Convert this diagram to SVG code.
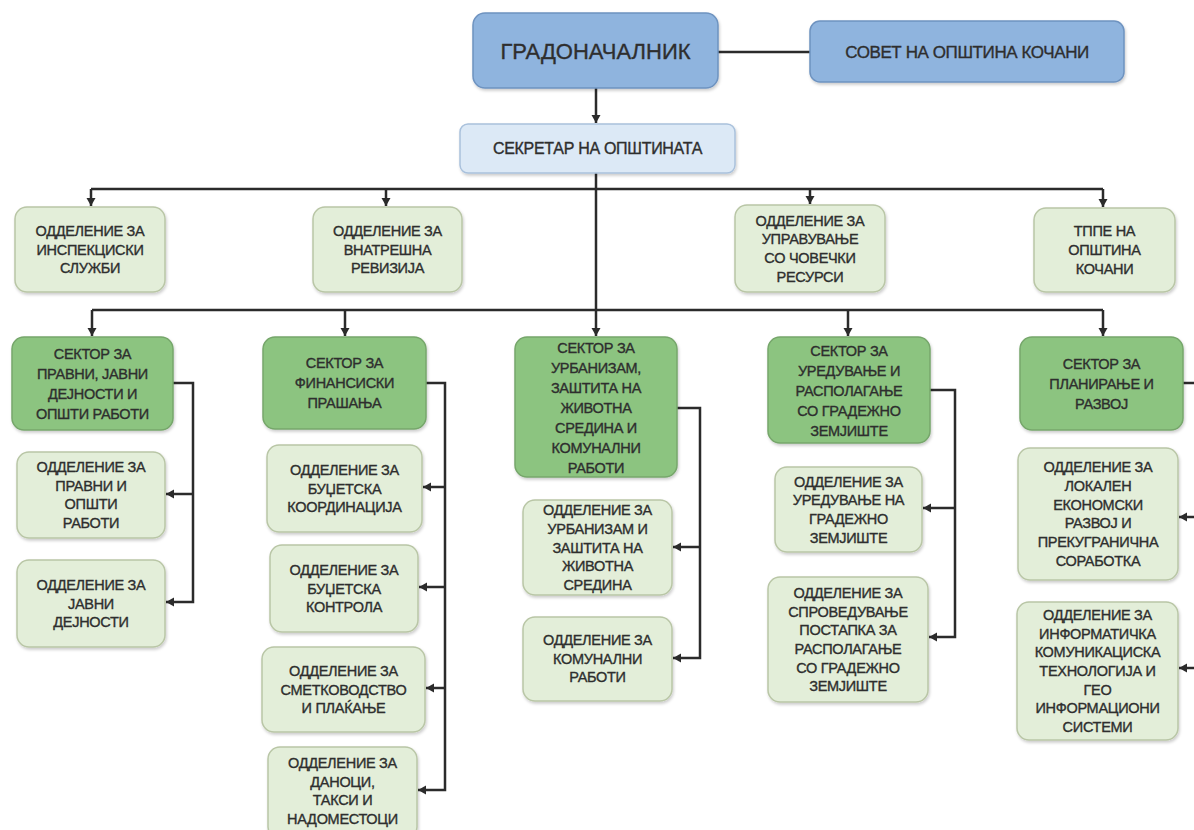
<svg xmlns="http://www.w3.org/2000/svg" width="1194" height="830" viewBox="0 0 1194 830">
<defs>
<marker id="arr" markerUnits="userSpaceOnUse" markerWidth="10" markerHeight="10" refX="8" refY="4.5" orient="auto">
<path d="M0,0 L8,4.5 L0,9 z" fill="#2b2b2b"/>
</marker>
<filter id="sh" x="-10%" y="-10%" width="125%" height="130%">
<feDropShadow dx="1" dy="2" stdDeviation="1.5" flood-color="#000" flood-opacity="0.2"/>
</filter>
<style>
.blue{fill:#8fb4de;stroke:#6e93c0;stroke-width:1.5;filter:url(#sh)}
.lblue{fill:#dce9f6;stroke:#a9c1dc;stroke-width:1.5;filter:url(#sh)}
.sec{fill:#8cc480;stroke:#76a66b;stroke-width:1.5;filter:url(#sh)}
.dep{fill:#e3eed9;stroke:#b9c6a6;stroke-width:1.5;filter:url(#sh)}
text{font-family:"Liberation Sans",Arial,sans-serif;fill:#2e2e2e;stroke:#2e2e2e;stroke-width:0.35;text-anchor:middle}
.t{font-size:14.5px;letter-spacing:-0.3px}
.conn path{fill:none;stroke:#2b2b2b;stroke-width:2.5}
.conn .a{marker-end:url(#arr)}
</style>
</defs>
<rect width="1194" height="830" fill="#fff"/>

<g class="conn" id="connectors">
<path d="M718,52 H810"/>
<path class="a" d="M596,88 V123"/>
<path class="a" d="M596,173 V336"/>
<path d="M91,189 H1103"/>
<path class="a" d="M91,189 V206"/>
<path class="a" d="M386,189 V206"/>
<path class="a" d="M810,189 V204"/>
<path class="a" d="M1103,189 V207"/>
<path d="M92,310 H1103"/>
<path class="a" d="M92,310 V336"/>
<path class="a" d="M345,310 V336"/>
<path class="a" d="M848,310 V336"/>
<path class="a" d="M1103,310 V336"/>
<path class="a" d="M173,383 H193 V602 H166"/>
<path class="a" d="M193,494 H166"/>
<path class="a" d="M426,383 H445 V790 H418"/>
<path class="a" d="M445,487 H423"/>
<path class="a" d="M445,587 H419"/>
<path class="a" d="M445,688 H426"/>
<path class="a" d="M677,408 H700 V658 H673"/>
<path class="a" d="M700,547 H673"/>
<path class="a" d="M930,390 H955 V637 H929"/>
<path class="a" d="M955,508 H923"/>
<path d="M1183,383 H1200"/>
<path class="a" d="M1200,517 H1179"/>
<path class="a" d="M1200,668 H1179"/>
</g>

<g id="mayor"><rect class="blue" x="473" y="13" width="245" height="75" rx="12"/>
<text x="595.5" y="58.5" font-size="22">ГРАДОНАЧАЛНИК</text></g>
<g id="council"><rect class="blue" x="810" y="21" width="314" height="61" rx="10"/>
<text x="967" y="57.5" font-size="17" letter-spacing="-0.4">СОВЕТ НА ОПШТИНА КОЧАНИ</text></g>
<g id="secretary"><rect class="lblue" x="460" y="124" width="275" height="49" rx="8"/>
<text x="597.5" y="154" font-size="16" letter-spacing="-0.3">СЕКРЕТАР НА ОПШТИНАТА</text></g>

<g id="dep-inspection"><rect class="dep" x="15" y="207" width="150" height="85" rx="12"/>
<text class="t"><tspan x="90" y="235.8">ОДДЕЛЕНИЕ ЗА</tspan><tspan x="90" y="254.5">ИНСПЕКЦИСКИ</tspan><tspan x="90" y="273.2">СЛУЖБИ</tspan></text></g>
<g id="dep-audit"><rect class="dep" x="313" y="207" width="149" height="85" rx="12"/>
<text class="t"><tspan x="387.5" y="235.8">ОДДЕЛЕНИЕ ЗА</tspan><tspan x="387.5" y="254.5">ВНАТРЕШНА</tspan><tspan x="387.5" y="273.2">РЕВИЗИЈА</tspan></text></g>
<g id="dep-hr"><rect class="dep" x="735" y="205" width="150" height="87" rx="12"/>
<text class="t"><tspan x="810" y="225.5">ОДДЕЛЕНИЕ ЗА</tspan><tspan x="810" y="244.2">УПРАВУВАЊЕ</tspan><tspan x="810" y="262.9">СО ЧОВЕЧКИ</tspan><tspan x="810" y="281.6">РЕСУРСИ</tspan></text></g>
<g id="tppe"><rect class="dep" x="1034" y="208" width="141" height="84" rx="12"/>
<text class="t"><tspan x="1104.5" y="236.3">ТППЕ НА</tspan><tspan x="1104.5" y="255">ОПШТИНА</tspan><tspan x="1104.5" y="273.7">КОЧАНИ</tspan></text></g>

<g id="sector-legal"><rect class="sec" x="12" y="337" width="161" height="93" rx="12"/>
<text class="t"><tspan x="92.5" y="358.5">СЕКТОР ЗА</tspan><tspan x="92.5" y="378.5">ПРАВНИ, ЈАВНИ</tspan><tspan x="92.5" y="398.5">ДЕЈНОСТИ И</tspan><tspan x="92.5" y="418.5">ОПШТИ РАБОТИ</tspan></text></g>
<g id="sector-finance"><rect class="sec" x="263" y="337" width="163" height="92" rx="12"/>
<text class="t"><tspan x="344.5" y="368">СЕКТОР ЗА</tspan><tspan x="344.5" y="388">ФИНАНСИСКИ</tspan><tspan x="344.5" y="408">ПРАШАЊА</tspan></text></g>
<g id="sector-urban"><rect class="sec" x="515" y="337" width="162" height="140" rx="12"/>
<text class="t"><tspan x="596" y="353">СЕКТОР ЗА</tspan><tspan x="596" y="373">УРБАНИЗАМ,</tspan><tspan x="596" y="393">ЗАШТИТА НА</tspan><tspan x="596" y="413">ЖИВОТНА</tspan><tspan x="596" y="433">СРЕДИНА И</tspan><tspan x="596" y="453">КОМУНАЛНИ</tspan><tspan x="596" y="473">РАБОТИ</tspan></text></g>
<g id="sector-land"><rect class="sec" x="768" y="337" width="162" height="106" rx="12"/>
<text class="t"><tspan x="849" y="356">СЕКТОР ЗА</tspan><tspan x="849" y="376">УРЕДУВАЊЕ И</tspan><tspan x="849" y="396">РАСПОЛАГАЊЕ</tspan><tspan x="849" y="416">СО ГРАДЕЖНО</tspan><tspan x="849" y="436">ЗЕМЈИШТЕ</tspan></text></g>
<g id="sector-planning"><rect class="sec" x="1020" y="337" width="163" height="93" rx="12"/>
<text class="t"><tspan x="1101.5" y="368.5">СЕКТОР ЗА</tspan><tspan x="1101.5" y="388.5">ПЛАНИРАЊЕ И</tspan><tspan x="1101.5" y="408.5">РАЗВОЈ</tspan></text></g>

<g id="dep-legal"><rect class="dep" x="17" y="452" width="148" height="86" rx="12"/>
<text class="t"><tspan x="91" y="472">ОДДЕЛЕНИЕ ЗА</tspan><tspan x="91" y="490.7">ПРАВНИ И</tspan><tspan x="91" y="509.4">ОПШТИ</tspan><tspan x="91" y="528.1">РАБОТИ</tspan></text></g>
<g id="dep-public"><rect class="dep" x="17" y="560" width="148" height="87" rx="12"/>
<text class="t"><tspan x="91" y="589.8">ОДДЕЛЕНИЕ ЗА</tspan><tspan x="91" y="608.5">ЈАВНИ</tspan><tspan x="91" y="627.2">ДЕЈНОСТИ</tspan></text></g>

<g id="dep-budget-coord"><rect class="dep" x="267" y="445" width="155" height="87" rx="12"/>
<text class="t"><tspan x="344.5" y="474.8">ОДДЕЛЕНИЕ ЗА</tspan><tspan x="344.5" y="493.5">БУЏЕТСКА</tspan><tspan x="344.5" y="512.2">КООРДИНАЦИЈА</tspan></text></g>
<g id="dep-budget-control"><rect class="dep" x="270" y="545" width="148" height="87" rx="12"/>
<text class="t"><tspan x="344" y="574.8">ОДДЕЛЕНИЕ ЗА</tspan><tspan x="344" y="593.5">БУЏЕТСКА</tspan><tspan x="344" y="612.2">КОНТРОЛА</tspan></text></g>
<g id="dep-accounting"><rect class="dep" x="262" y="647" width="163" height="85" rx="12"/>
<text class="t"><tspan x="343.5" y="675.8">ОДДЕЛЕНИЕ ЗА</tspan><tspan x="343.5" y="694.5">СМЕТКОВОДСТВО</tspan><tspan x="343.5" y="713.2">И ПЛАЌАЊЕ</tspan></text></g>
<g id="dep-taxes"><rect class="dep" x="268" y="747" width="149" height="92" rx="12"/>
<text class="t"><tspan x="342.5" y="768">ОДДЕЛЕНИЕ ЗА</tspan><tspan x="342.5" y="786.7">ДАНОЦИ,</tspan><tspan x="342.5" y="805.4">ТАКСИ И</tspan><tspan x="342.5" y="824.1">НАДОМЕСТОЦИ</tspan></text></g>

<g id="dep-urban"><rect class="dep" x="523" y="500" width="149" height="95" rx="12"/>
<text class="t"><tspan x="597.5" y="515.1">ОДДЕЛЕНИЕ ЗА</tspan><tspan x="597.5" y="533.8">УРБАНИЗАМ И</tspan><tspan x="597.5" y="552.5">ЗАШТИТА НА</tspan><tspan x="597.5" y="571.2">ЖИВОТНА</tspan><tspan x="597.5" y="589.9">СРЕДИНА</tspan></text></g>
<g id="dep-communal"><rect class="dep" x="523" y="617" width="149" height="84" rx="12"/>
<text class="t"><tspan x="597.5" y="645">ОДДЕЛЕНИЕ ЗА</tspan><tspan x="597.5" y="663.7">КОМУНАЛНИ</tspan><tspan x="597.5" y="682.4">РАБОТИ</tspan></text></g>

<g id="dep-land-arrange"><rect class="dep" x="775" y="467" width="147" height="85" rx="12"/>
<text class="t"><tspan x="848.5" y="486.5">ОДДЕЛЕНИЕ ЗА</tspan><tspan x="848.5" y="505.2">УРЕДУВАЊЕ НА</tspan><tspan x="848.5" y="523.9">ГРАДЕЖНО</tspan><tspan x="848.5" y="542.6">ЗЕМЈИШТЕ</tspan></text></g>
<g id="dep-land-procedure"><rect class="dep" x="768" y="577" width="160" height="125" rx="12"/>
<text class="t"><tspan x="848" y="597.8">ОДДЕЛЕНИЕ ЗА</tspan><tspan x="848" y="616.5">СПРОВЕДУВАЊЕ</tspan><tspan x="848" y="635.2">ПОСТАПКА ЗА</tspan><tspan x="848" y="653.9">РАСПОЛАГАЊЕ</tspan><tspan x="848" y="672.6">СО ГРАДЕЖНО</tspan><tspan x="848" y="691.3">ЗЕМЈИШТЕ</tspan></text></g>

<g id="dep-led"><rect class="dep" x="1018" y="448" width="160" height="132" rx="12"/>
<text class="t"><tspan x="1098" y="472.3">ОДДЕЛЕНИЕ ЗА</tspan><tspan x="1098" y="491">ЛОКАЛЕН</tspan><tspan x="1098" y="509.7">ЕКОНОМСКИ</tspan><tspan x="1098" y="528.4">РАЗВОЈ И</tspan><tspan x="1098" y="547.1">ПРЕКУГРАНИЧНА</tspan><tspan x="1098" y="565.8">СОРАБОТКА</tspan></text></g>
<g id="dep-ict"><rect class="dep" x="1017" y="602" width="161" height="138" rx="12"/>
<text class="t"><tspan x="1097.5" y="619.9">ОДДЕЛЕНИЕ ЗА</tspan><tspan x="1097.5" y="638.6">ИНФОРМАТИЧКА</tspan><tspan x="1097.5" y="657.3">КОМУНИКАЦИСКА</tspan><tspan x="1097.5" y="676">ТЕХНОЛОГИЈА И</tspan><tspan x="1097.5" y="694.7">ГЕО</tspan><tspan x="1097.5" y="713.4">ИНФОРМАЦИОНИ</tspan><tspan x="1097.5" y="732.1">СИСТЕМИ</tspan></text></g>
</svg>
